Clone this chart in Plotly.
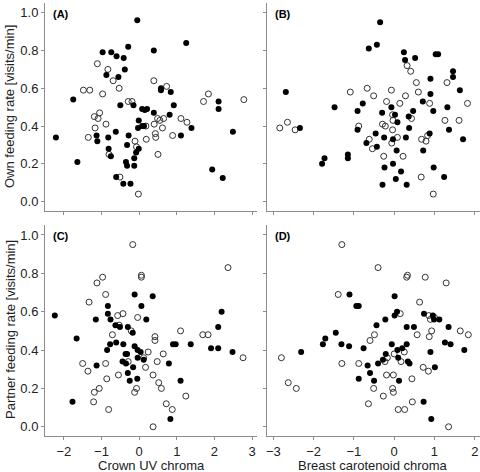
import plotly.graph_objects as go

# panel A: own feeding rate vs crown UV chroma
a_filled_x = [-0.05, 1.25, -0.29, -0.97, -0.74, -0.60, -0.41, 0.39, -0.38, -0.87, -0.55, 0.58, 0.58, 0.84,
              -1.75, 2.11, 2.11, -0.50, -0.15, 0.92, 0.08, 0.15, 0.21, 0.39, 0.81, -0.01, -0.03, 0.08, 0.13,
              1.39, 2.49, -0.62, -2.21, -1.13, -1.11, -0.82, -0.28, 1.11, -0.32, -0.01, -0.81, -0.75, -0.08,
              -0.13, -0.35, -0.32, -0.13, -1.64, 1.94, 2.22, -0.61, -0.42, -0.23]
a_filled_y = [0.96, 0.84, 0.82, 0.79, 0.79, 0.77, 0.76, 0.80, 0.70, 0.67, 0.66, 0.60, 0.59, 0.58,
              0.54, 0.53, 0.49, 0.51, 0.51, 0.51, 0.49, 0.485, 0.49, 0.47, 0.46, 0.43, 0.39, 0.40, 0.40,
              0.39, 0.37, 0.37, 0.34, 0.35, 0.32, 0.34, 0.35, 0.35, 0.30, 0.28, 0.28, 0.24, 0.26,
              0.23, 0.21, 0.19, 0.19, 0.21, 0.17, 0.125, 0.13, 0.095, 0.095]
a_open_x = [-1.11, -0.83, -0.69, -0.53, -1.48, -1.31, -0.97, 0.39, 0.73, 1.84, 1.71, 2.78, -0.29, -0.19,
            -1.05, -1.19, -1.09, -0.88, -1.17, -1.35, 0.49, 0.55, 0.65, 0.40, 0.62, 1.11, 1.27, 0.43,
            0.44, 0.19, 0.89, 0.18, -0.11, -0.07, -0.80, 0.50, -0.51, -0.02]
a_open_y = [0.73, 0.70, 0.64, 0.60, 0.59, 0.59, 0.57, 0.64, 0.61, 0.57, 0.53, 0.54, 0.53, 0.53,
            0.47, 0.45, 0.44, 0.41, 0.39, 0.34, 0.44, 0.43, 0.44, 0.41, 0.39, 0.44, 0.42, 0.36,
            0.34, 0.33, 0.35, 0.40, 0.32, 0.29, 0.25, 0.25, 0.13, 0.04]

# panel B: own feeding rate vs breast carotenoid chroma
b_filled_x = [-0.35, -0.63, -0.43, 0.24, 0.27, 0.52, 1.03, 1.09, 1.46, 1.46, 0.90, 1.63, -2.69, -2.34,
              -1.48, -0.91, -0.78, -0.07, 0.02, 0.08, 0.36, 0.47, 0.71, 0.90, 0.97, 1.32, 1.36, 1.71,
              0.88, -0.91, -0.30, -0.46, -0.69, -0.43, -0.25, -0.03, 0.29, 0.37, 0.72, 0.06, -1.79,
              -1.73, -1.15, -1.15, -0.24, -0.03, 0.17, 0.04, 0.31, -0.29, 0.98, 1.24]
b_filled_y = [0.95, 0.81, 0.83, 0.79, 0.75, 0.76, 0.78, 0.78, 0.69, 0.66, 0.65, 0.59, 0.58, 0.39,
              0.50, 0.48, 0.52, 0.50, 0.46, 0.42, 0.45, 0.48, 0.53, 0.57, 0.48, 0.50, 0.38, 0.33,
              0.36, 0.38, 0.47, 0.36, 0.31, 0.29, 0.34, 0.33, 0.34, 0.39, 0.27, 0.27, 0.20,
              0.23, 0.25, 0.23, 0.18, 0.20, 0.16, 0.12, 0.09, 0.09, 0.18, 0.13]
b_open_x = [0.32, 0.41, 0.55, 0.60, 1.31, 1.82, 1.26, 1.61, 0.88, -0.67, -0.51, -1.09, -0.07, -0.19,
            0.14, 0.28, -0.04, -0.03, 0.43, -0.29, -0.22, -0.88, -0.04, -2.84, -2.65, -2.46, -0.62,
            -0.54, -0.06, 0.08, 0.68, 0.79, 0.83, -0.26, 0.22, 0.67, 0.97]
b_open_y = [0.72, 0.69, 0.63, 0.58, 0.63, 0.52, 0.43, 0.43, 0.52, 0.60, 0.56, 0.58, 0.59, 0.53,
            0.52, 0.56, 0.46, 0.43, 0.44, 0.41, 0.40, 0.40, 0.38, 0.39, 0.42, 0.38, 0.33,
            0.28, 0.31, 0.34, 0.33, 0.32, 0.35, 0.24, 0.24, 0.13, 0.04]

# panel C: partner feeding rate vs crown UV chroma
c_filled_x = [-2.24, -1.66, -1.77, -1.15, -1.13, -0.83, -0.83, -0.76, -0.63, -0.51, -0.77, -0.85, -0.61,
              -0.42, -0.30, -0.17, -0.12, 0.06, 0.36, 0.19, -0.12, -0.04, 0.04, 0.12, -0.04, -0.44,
              -0.35, -0.36, -0.32, -0.30, -0.25, -0.16, -0.05, 0.79, 0.90, 0.97, 1.37, 1.91, 2.10,
              2.10, 2.19, 2.48, 1.10, 0.83]
c_filled_y = [0.58, 0.46, 0.13, 0.56, 0.32, 0.63, 0.59, 0.56, 0.53, 0.52, 0.43, 0.40, 0.44,
              0.43, 0.52, 0.49, 0.69, 0.63, 0.68, 0.56, 0.42, 0.40, 0.39, 0.35, 0.36, 0.34,
              0.33, 0.38, 0.38, 0.28, 0.24, 0.31, 0.25, 0.33, 0.43, 0.43, 0.43, 0.41, 0.41,
              0.52, 0.60, 0.39, 0.24, 0.04]
c_open_x = [-0.17, 2.36, -0.97, -1.12, 0.06, 0.06, -0.89, -1.33, -0.57, -0.43, -0.04, -0.53, -0.21,
            -0.71, 0.42, 0.42, 1.10, 1.69, 1.83, 0.24, 0.64, 0.48, 0.12, 0.17, -0.29, -0.89, -1.50,
            -1.36, -0.55, 0.37, -0.86, -1.06, -1.19, -0.07, -0.12, 0.52, 0.59, -1.21, -0.81, 0.72,
            0.88, 1.24, 2.76, 0.37]
c_open_y = [0.95, 0.83, 0.78, 0.75, 0.79, 0.78, 0.69, 0.65, 0.58, 0.59, 0.57, 0.53, 0.50,
            0.48, 0.47, 0.45, 0.50, 0.48, 0.48, 0.39, 0.38, 0.34, 0.36, 0.31, 0.34, 0.33, 0.33,
            0.29, 0.27, 0.27, 0.25, 0.20, 0.18, 0.20, 0.18, 0.23, 0.20, 0.13, 0.09, 0.12,
            0.09, 0.16, 0.36, 0.00]

# panel D: partner feeding rate vs breast carotenoid chroma
d_filled_x = [-2.31, -1.77, -1.71, -1.45, -1.31, -1.12, -1.11, -0.94, -0.88, -0.76, -0.88, -0.66, -0.60,
              -0.50, -0.44, -0.40, -0.28, -0.22, -0.21, -0.06, 0.01, 0.07, 0.01, 0.08, 0.10, 0.12,
              0.20, 0.31, 0.31, 0.34, 0.38, 0.49, 0.74, 0.96, 0.99, 1.12, 1.01, 0.90, 1.35, 1.26,
              1.40, 1.74, 0.73, 0.92]
d_filled_y = [0.39, 0.43, 0.46, 0.49, 0.43, 0.42, 0.69, 0.63, 0.63, 0.41, 0.25, 0.32, 0.28,
              0.24, 0.53, 0.33, 0.35, 0.56, 0.38, 0.43, 0.68, 0.60, 0.58, 0.40, 0.36, 0.24,
              0.41, 0.43, 0.52, 0.34, 0.33, 0.52, 0.59, 0.58, 0.56, 0.56, 0.31, 0.39, 0.52, 0.44,
              0.43, 0.40, 0.13, 0.04]
d_open_x = [-1.30, -0.40, 0.33, 0.31, 0.77, 1.29, -1.39, 0.63, 0.15, 0.86, 1.00, 0.90, -0.60, -0.49,
            0.57, 0.93, 0.87, 1.64, 1.84, 0.25, 0.00, -0.17, -0.23, 0.17, -1.30, -0.88, 0.44, 0.72,
            0.85, -0.19, -0.02, -0.51, -0.04, -0.02, -0.27, -0.64, 0.10, 0.26, 0.45, 1.35, -2.80,
            -2.63, -2.43]
d_open_y = [0.95, 0.83, 0.79, 0.78, 0.78, 0.75, 0.69, 0.65, 0.59, 0.58, 0.57, 0.56, 0.45, 0.48,
            0.48, 0.50, 0.47, 0.50, 0.48, 0.39, 0.38, 0.36, 0.34, 0.34, 0.33, 0.33, 0.25, 0.31,
            0.29, 0.27, 0.27, 0.20, 0.20, 0.18, 0.16, 0.12, 0.09, 0.09, 0.13, 0.00, 0.36,
            0.23, 0.20]

panels = [("x", "y", a_filled_x, a_filled_y, a_open_x, a_open_y),
          ("x2", "y2", b_filled_x, b_filled_y, b_open_x, b_open_y),
          ("x3", "y3", c_filled_x, c_filled_y, c_open_x, c_open_y),
          ("x4", "y4", d_filled_x, d_filled_y, d_open_x, d_open_y)]

fig = go.Figure()
for xa, ya, fx, fy, ox, oy in panels:
    fig.add_trace(go.Scatter(x=ox, y=oy, xaxis=xa, yaxis=ya, mode="markers", showlegend=False,
                             marker=dict(symbol="circle-open", size=6, color="#333333",
                                         line=dict(width=1, color="#333333"))))
    fig.add_trace(go.Scatter(x=fx, y=fy, xaxis=xa, yaxis=ya, mode="markers", showlegend=False,
                             marker=dict(symbol="circle", size=6, color="black")))

W, H = 480, 472
left_dom = [45 / W, 257 / W]
right_dom = [267.3 / W, 1.0]
top_dom = [1 - 210.7 / H, 1 - 3.25 / H]
bot_dom = [1 - 436 / H, 1 - 225.4 / H]

axis_common = dict(showline=True, linecolor="#8c8c8c", linewidth=1, ticks="outside", ticklen=3,
                   tickcolor="#8c8c8c", showgrid=False, zeroline=False,
                   tickfont=dict(family="Liberation Sans", size=13, color="#222222"))
yrange = [-0.048, 1.05]
ytv = [0, 0.2, 0.4, 0.6, 0.8, 1.0]
ytt = ["0.0", "0.2", "0.4", "0.6", "0.8", "1.0"]

fig.update_layout(
    width=W, height=H, margin=dict(l=0, r=0, t=0, b=0),
    paper_bgcolor="white", plot_bgcolor="white",
    xaxis=dict(domain=left_dom, anchor="y", range=[-2.5, 3.13], tickvals=[-2, -1, 0, 1, 2, 3],
               showticklabels=False, **axis_common),
    yaxis=dict(domain=top_dom, anchor="x", range=yrange, tickvals=ytv, ticktext=ytt, **axis_common),
    xaxis2=dict(domain=right_dom, anchor="y2", range=[-3.15, 2.13], tickvals=[-3, -2, -1, 0, 1, 2],
                showticklabels=False, **axis_common),
    yaxis2=dict(domain=top_dom, anchor="x2", range=yrange, tickvals=ytv, showticklabels=False,
                **axis_common),
    xaxis3=dict(domain=left_dom, anchor="y3", range=[-2.5, 3.13], tickvals=[-2, -1, 0, 1, 2, 3],
                **axis_common),
    yaxis3=dict(domain=bot_dom, anchor="x3", range=yrange, tickvals=ytv, ticktext=ytt, **axis_common),
    xaxis4=dict(domain=right_dom, anchor="y4", range=[-3.15, 2.13], tickvals=[-3, -2, -1, 0, 1, 2],
                **axis_common),
    yaxis4=dict(domain=bot_dom, anchor="x4", range=yrange, tickvals=ytv, showticklabels=False,
                **axis_common),
)

lab_font = dict(family="Liberation Sans", size=11, color="black")
title_font = dict(family="Liberation Sans", size=13, color="#222222")
annos = []
for txt, xd in [("(A)", left_dom), ("(B)", right_dom)]:
    annos.append(dict(text="<b>" + txt + "</b>", x=xd[0] + 6 / W, y=1 - 6 / H, xref="paper", yref="paper",
                      xanchor="left", yanchor="top", showarrow=False, font=lab_font))
for txt, xd in [("(C)", left_dom), ("(D)", right_dom)]:
    annos.append(dict(text="<b>" + txt + "</b>", x=xd[0] + 6 / W, y=1 - 228 / H, xref="paper", yref="paper",
                      xanchor="left", yanchor="top", showarrow=False, font=lab_font))
annos.append(dict(text="Own feeding rate [visits/min]", x=10 / W, y=1 - 107 / H, xref="paper", yref="paper",
                  xanchor="center", yanchor="middle", textangle=-90, showarrow=False, font=title_font))
annos.append(dict(text="Partner feeding rate [visits/min]", x=10 / W, y=1 - 330 / H, xref="paper", yref="paper",
                  xanchor="center", yanchor="middle", textangle=-90, showarrow=False, font=title_font))
annos.append(dict(text="Crown UV chroma", x=151 / W, y=1 - 465 / H, xref="paper", yref="paper",
                  xanchor="center", yanchor="middle", showarrow=False, font=title_font))
annos.append(dict(text="Breast carotenoid chroma", x=373 / W, y=1 - 465 / H, xref="paper", yref="paper",
                  xanchor="center", yanchor="middle", showarrow=False, font=title_font))
fig.update_layout(annotations=annos)

# drop the page's default body margin so the figure sits at the window corner
fig.write_html("out.html", config={"displayModeBar": False},
               post_script="document.body.style.margin='0px';")
